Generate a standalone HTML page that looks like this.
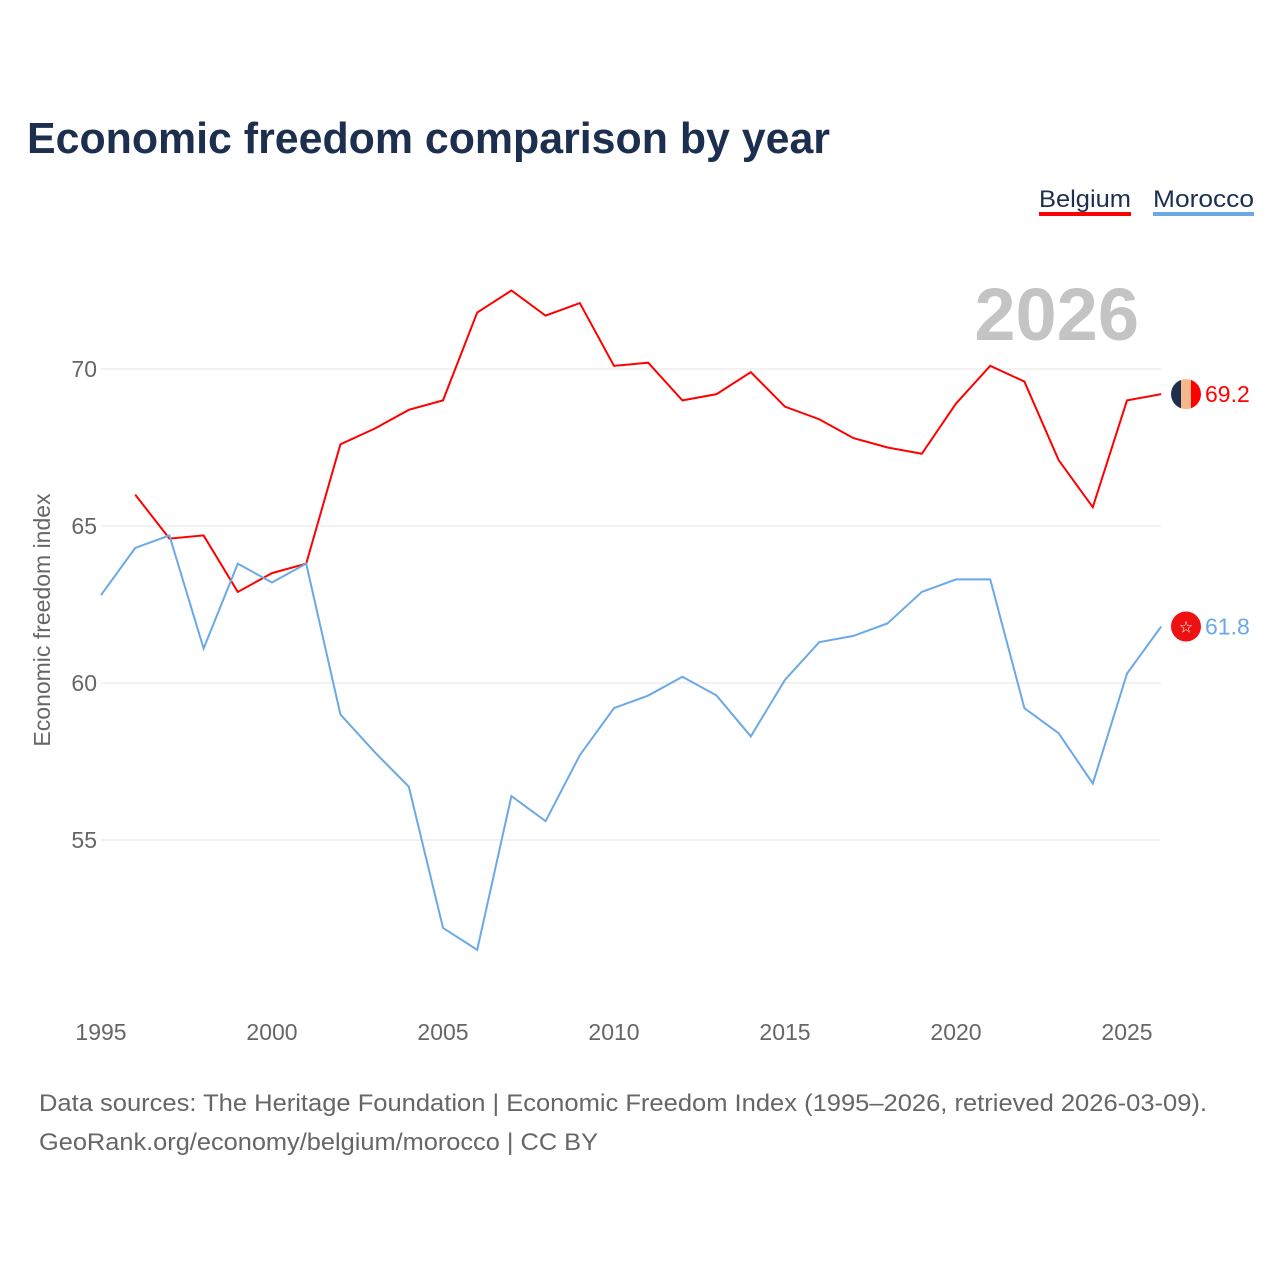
<!DOCTYPE html>
<html><head><meta charset="utf-8">
<style>
body{margin:0;background:#fff;font-family:"Liberation Sans",sans-serif;}
#wrap{position:relative;width:1280px;height:1280px;overflow:hidden}
</style></head>
<body>
<div id="wrap">
<svg id="chart" width="1280" height="1280"></svg>
</div>
<script>
const years=[1995,1996,1997,1998,1999,2000,2001,2002,2003,2004,2005,2006,2007,2008,2009,2010,2011,2012,2013,2014,2015,2016,2017,2018,2019,2020,2021,2022,2023,2024,2025,2026];
const belgium=[null,66.0,64.6,64.7,62.9,63.5,63.8,67.6,68.1,68.7,69.0,71.8,72.5,71.7,72.1,70.1,70.2,69.0,69.2,69.9,68.8,68.4,67.8,67.5,67.3,68.9,70.1,69.6,67.1,65.6,69.0,69.2];
const morocco=[62.8,64.3,64.7,61.1,63.8,63.2,63.8,59.0,57.8,56.7,52.2,51.5,56.4,55.6,57.7,59.2,59.6,60.2,59.6,58.3,60.1,61.3,61.5,61.9,62.9,63.3,63.3,59.2,58.4,56.8,60.3,61.8];
const yTicks=[55,60,65,70];
const xTicks=[1995,2000,2005,2010,2015,2020,2025];
const NS="http://www.w3.org/2000/svg";
const svg=document.getElementById('chart');
const x=v=>101+(v-1995)*(1026/30);
const y=v=>369+(70-v)*31.4;
function mk(t,a,txt){const e=document.createElementNS(NS,t);for(const k in a)e.setAttribute(k,a[k]);if(txt!=null)e.textContent=txt;svg.appendChild(e);return e;}
let e;
e=mk('text',{x:27,y:153,'font-size':44,'font-weight':'bold',fill:'#1c2f4f',textLength:803,lengthAdjust:'spacingAndGlyphs'},'Economic freedom comparison by year');


e=mk('text',{x:1139,y:340,'font-size':74,'font-weight':'bold',fill:'#c4c4c4','text-anchor':'end'},'2026');


yTicks.forEach(t=>{
 e=mk('line',{x1:101,x2:1161,y1:y(t),y2:y(t),stroke:'#e6e6e6','stroke-width':1});
 
 
 e=mk('text',{x:97,y:y(t)+8,'font-size':23,fill:'#666','text-anchor':'end'},String(t));
 
 
});
xTicks.forEach(t=>{
 e=mk('text',{x:x(t),y:1040,'font-size':23,fill:'#666','text-anchor':'middle'},String(t));
 
 
});
e=mk('text',{x:0,y:0,'font-size':23,fill:'#666','text-anchor':'middle',transform:'translate(50,620) rotate(-90)'},'Economic freedom index');


function series(vals,color,name){
 let d='';vals.forEach((v,i)=>{if(v==null)return;d+=(d?'L':'M')+x(years[i])+','+y(v);});
 const p=mk('path',{d:d,fill:'none',stroke:color,'stroke-width':2});
 
 
}
series(belgium,'#ff0000','belgium');
series(morocco,'#6aa9e6','morocco');
const bl=belgium[belgium.length-1], ml=morocco[morocco.length-1];
e=mk('g',{});


e.innerHTML=`<clipPath id="cb"><circle cx="1186" cy="${y(bl)}" r="15"/></clipPath><g clip-path="url(#cb)"><rect x="1171" y="${y(bl)-15}" width="10" height="30" fill="#1c2f4f"/><rect x="1181" y="${y(bl)-15}" width="10" height="30" fill="#f5b88a"/><rect x="1191" y="${y(bl)-15}" width="10" height="30" fill="#ff0000"/></g>`;
e=mk('text',{x:1205,y:y(bl)+8,'font-size':23,fill:'#ff0000'},bl.toFixed(1));


e=mk('circle',{cx:1186,cy:y(ml),r:15,fill:'#ee1111'});


e=mk('text',{x:1186,y:y(ml)+6,'font-size':16,fill:'#fff','text-anchor':'middle'},'☆');


e=mk('text',{x:1205,y:y(ml)+8,'font-size':23,fill:'#6aa9e6'},ml.toFixed(1));


e=mk('text',{x:1039,y:207,'font-size':24,fill:'#1c2f4f',textLength:92,lengthAdjust:'spacingAndGlyphs'},'Belgium');


e=mk('rect',{x:1039,y:212,width:92,height:4,fill:'#ff0000'});


e=mk('text',{x:1153,y:207,'font-size':24,fill:'#1c2f4f',textLength:101,lengthAdjust:'spacingAndGlyphs'},'Morocco');


e=mk('rect',{x:1153,y:212,width:101,height:4,fill:'#6aa9e6'});


e=mk('text',{x:39,y:1111,'font-size':24,fill:'#666',textLength:1168,lengthAdjust:'spacingAndGlyphs'},'Data sources: The Heritage Foundation | Economic Freedom Index (1995–2026, retrieved 2026-03-09).');


e=mk('text',{x:39,y:1150,'font-size':24,fill:'#666',textLength:559,lengthAdjust:'spacingAndGlyphs'},'GeoRank.org/economy/belgium/morocco | CC BY');


</script>
</body></html>
